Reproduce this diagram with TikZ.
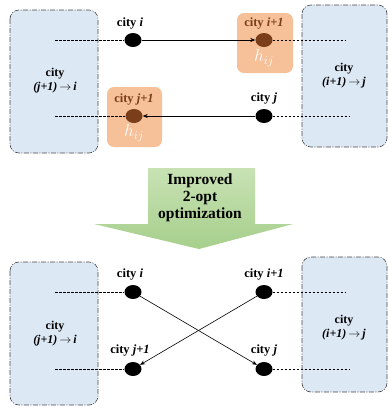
\documentclass[tikz,border=0pt]{standalone}
\usepackage{fontspec}
\setmainfont{Liberation Serif}
\usetikzlibrary{shapes.geometric,arrows.meta}
\definecolor{boxblue}{RGB}{221,232,245}
\definecolor{boxedge}{RGB}{70,70,70}
\definecolor{orbox}{RGB}{246,192,152}
\definecolor{brownc}{RGB}{122,62,26}
\definecolor{gtop}{RGB}{200,226,180}
\definecolor{gbot}{RGB}{166,207,140}
\tikzset{
  bluebox/.style={fill=boxblue,draw=boxedge,line width=0.6pt,dash pattern=on 5pt off 1.5pt on 1pt off 1.5pt,rounded corners=9pt},
  orangebox/.style={fill=orbox,rounded corners=7pt},
  citydot/.style={ellipse,fill=black,minimum width=17pt,minimum height=14pt,inner sep=0pt},
  browndot/.style={citydot,fill=brownc},
  lbl/.style={font=\fontsize{12.5}{13}\selectfont\bfseries,inner sep=0pt},
  blbl/.style={lbl,text=brownc},
  boxlbl/.style={font=\fontsize{12}{14}\selectfont\bfseries,align=center,inner sep=0pt},
  hlbl/.style={font=\fontsize{17}{18}\selectfont,text=white,inner sep=0pt},
  dline/.style={line width=0.5pt,dash pattern=on 2.5pt off 1.5pt},
  link/.style={line width=0.6pt,-{Stealth[length=5pt,width=4pt]}},
}
\begin{document}
\begin{tikzpicture}[x=1pt,y=-1pt]
\useasboundingbox (0,0) rectangle (388,408);
% ---------- top part ----------
\draw[bluebox] (10,10) rectangle (98,153);
\draw[bluebox] (302,5) rectangle (387,147);
\node[boxlbl] (tl) at (55,81) {city\\\textit{(j+1)}\,$\rightarrow$\,\textit{i}};
\node[boxlbl] (tr) at (344,76) {city\\\textit{(i+1)}\,$\rightarrow$\,\textit{j}};
\fill[orangebox] (237,13) rectangle (293,73);
\fill[orangebox] (107,87) rectangle (162,147);
\node[citydot] (ti) at (133,40) {};
\node[lbl] (tilbl) at (130,24) {city \textit{i}};
\node[browndot] (ti1) at (264,40) {};
\node[blbl] (ti1lbl) at (264,24) {city \textit{i+1}};
\node[hlbl] (th1) at (264,58) {$h_{ij}$};
\node[citydot] (tj) at (264,116) {};
\node[lbl] (tjlbl) at (264,99) {city \textit{j}};
\node[browndot] (tj1) at (134,116) {};
\node[blbl] (tj1lbl) at (134,100) {city \textit{j+1}};
\node[hlbl] (th2) at (134,133) {$h_{ij}$};
\coordinate (tla) at (55,40);
\coordinate (tlb) at (55,116);
\coordinate (tra) at (345,40);
\coordinate (trb) at (349,116);
\draw[dline] (tla) -- (ti);
\draw[dline] (tlb) -- (tj1);
\draw[dline] (ti1) -- (tra);
\draw[dline] (tj) -- (trb);
\draw[link] (ti) -- (ti1);
\draw[link] (tj) -- (tj1);
% ---------- green arrow ----------
\shade[top color=gtop,bottom color=gbot]
  (148,168) -- (255,168) -- (255,224) -- (293,224) -- (199,249) -- (94,224) -- (148,224) -- cycle;
\node[font=\fontsize{15.5}{17}\selectfont\bfseries,align=center] (opt) at (200,198) {Improved\\2-opt\\optimization};
% ---------- bottom part ----------
\draw[bluebox] (10,262) rectangle (98,405);
\draw[bluebox] (302,257) rectangle (387,392);
\node[boxlbl] (bl) at (55,334) {city\\\textit{(j+1)}\,$\rightarrow$\,\textit{i}};
\node[boxlbl] (br) at (344,328) {city\\\textit{(i+1)}\,$\rightarrow$\,\textit{j}};
\node[citydot] (bi) at (133,292) {};
\node[lbl] (bilbl) at (130,275) {city \textit{i}};
\node[citydot] (bi1) at (264,292) {};
\node[lbl] (bi1lbl) at (264,275) {city \textit{i+1}};
\node[citydot] (bj1) at (133,369) {};
\node[lbl] (bj1lbl) at (130,351) {city \textit{j+1}};
\node[citydot] (bj) at (264,369) {};
\node[lbl] (bjlbl) at (264,351) {city \textit{j}};
\coordinate (bla) at (55,292);
\coordinate (blb) at (55,369);
\coordinate (bra) at (345,292);
\coordinate (brb) at (349,369);
\draw[dline] (bla) -- (bi);
\draw[dline] (blb) -- (bj1);
\draw[dline] (bi1) -- (bra);
\draw[dline] (bj) -- (brb);
\draw[link] (bi) -- (bj);
\draw[link] (bi1) -- (bj1);
\end{tikzpicture}
\end{document}
